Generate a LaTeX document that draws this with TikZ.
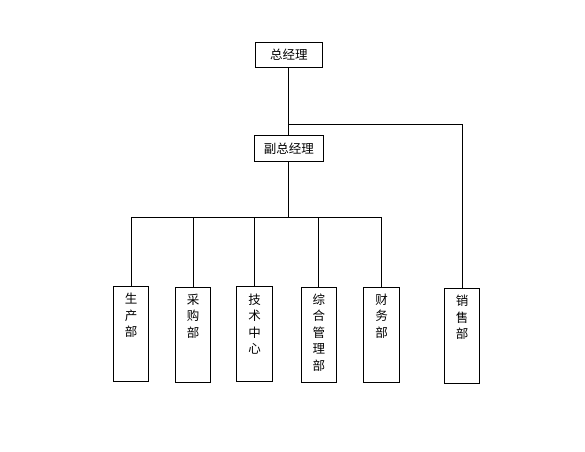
\documentclass[tikz,border=0pt]{standalone}
\usepackage{fontspec}
\newfontfamily\cjk{Noto Sans CJK SC}
\usetikzlibrary{positioning}
\tikzset{
  head/.style   ={draw, line width=0.8pt, inner sep=0pt, minimum height=25.5pt,
                  font=\cjk\fontsize{12.5}{15}\selectfont},
  dept/.style   ={draw, line width=0.8pt, inner sep=0pt, minimum width=35.5pt, minimum height=95pt},
  deptlbl/.style={inner sep=0pt, align=center, anchor=north,
                  font=\cjk\fontsize{12.5}{16.5}\selectfont},
  wire/.style   ={line width=0.8pt},
}
\begin{document}
\begin{tikzpicture}[x=1pt,y=-1pt]
  \useasboundingbox (0,0) rectangle (585,451);
  % --- top ---
  \node[head, minimum width=67.5pt] (zjl) at (288.8,54.8) {总经理};
  \node[head, minimum width=69pt, minimum height=26.5pt] (fzjl) at (288.8,148.3) {副总经理};
  % --- departments ---
  \node[dept] (scb)   at (131,334)   {};
  \node[dept] (cgb)   at (193,334.5) {};
  \node[dept, minimum width=36.4pt] (jszx)  at (254.5,334.3) {};
  \node[dept, minimum width=35pt]   (zhglb) at (318.8,334.5) {};
  \node[dept, minimum width=36.4pt] (cwb)   at (381.5,334.5) {};
  \node[dept] (xsb)   at (462,335.8) {};
  \node[deptlbl, below=7pt of scb.north]   (scbt)   {生\\产\\部};
  \node[deptlbl, below=7pt of cgb.north]   (cgbt)   {采\\购\\部};
  \node[deptlbl, below=7pt of jszx.north]  (jszxt)  {技\\术\\中\\心};
  \node[deptlbl, below=7pt of zhglb.north] (zhglbt) {综\\合\\管\\理\\部};
  \node[deptlbl, below=7pt of cwb.north]   (cwbt)   {财\\务\\部};
  \node[deptlbl, below=7pt of xsb.north]   (xsbt)   {销\\售\\部};
  % --- connectors ---
  \coordinate (split) at (zjl.south |- 0,124.5);
  \coordinate (bus)   at (fzjl.south |- 0,217.3);
  \draw[wire] (zjl.south) -- (fzjl.north);
  \draw[wire] (split) -| (xsb.north);
  \draw[wire] (fzjl.south) -- (bus);
  \foreach \d in {scb,cgb,jszx,zhglb,cwb}
    \draw[wire] (bus) -| (\d.north);
\end{tikzpicture}
\end{document}
